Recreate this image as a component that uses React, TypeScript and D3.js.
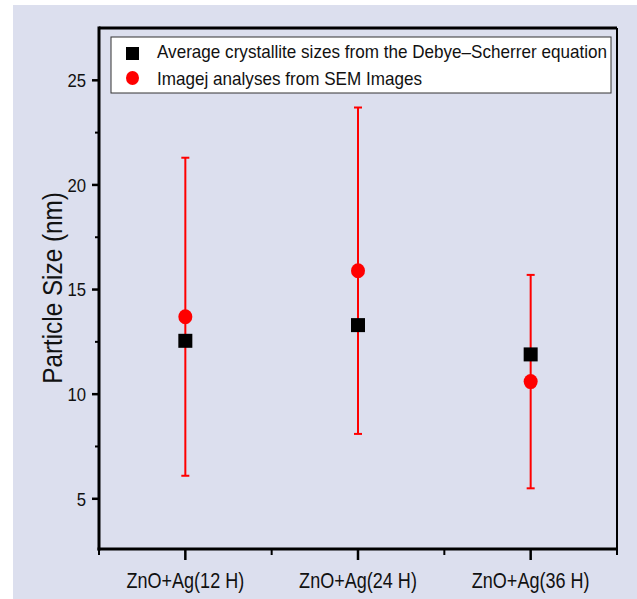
import React from 'react';
import * as d3 from 'd3';

// categories and values
const categories = ['ZnO+Ag(12 H)', 'ZnO+Ag(24 H)', 'ZnO+Ag(36 H)'];
const scherrer = [12.55, 13.3, 11.9];
const imagej = [13.7, 15.9, 10.6];
const imagejLow = [6.1, 8.1, 5.5];
const imagejHigh = [21.3, 23.7, 15.7];
const yTicks = [5, 10, 15, 20, 25];
const yMinor = [7.5, 12.5, 17.5, 22.5];
const legendLabels = [
  'Average crystallite sizes from the Debye\u2013Scherrer equation',
  'Imagej analyses from SEM Images',
];

const W = 637;
const H = 599;
const left = 99, right = 617, top = 28, bottom = 549;
const font = 'Arial, "Liberation Sans", Helvetica, sans-serif';

// condensed text: squeeze along the writing direction
const Txt: React.FC<{
  x: number; y: number; size: number; sx: number;
  anchor?: 'start' | 'middle' | 'end'; rotate?: number; dy?: string; children: React.ReactNode;
}> = ({ x, y, size, sx, anchor = 'start', rotate = 0, dy, children }) => (
  <text
    transform={`translate(${x},${y}) rotate(${rotate}) scale(${sx},1)`}
    textAnchor={anchor}
    fontSize={size}
    dy={dy}
    fill="#111"
  >
    {children}
  </text>
);

const App: React.FC = () => {
  const x = d3.scaleLinear().domain([0.5, 3.5]).range([left, right]);
  const y = d3.scaleLinear().domain([2.6, 27.5]).range([bottom, top]);
  const xMinor = d3.range(0.5, 3.6, 1);

  return (
    <svg
      width={W}
      height={H}
      style={{ position: 'absolute', left: 0, top: 0, background: '#fff' }}
      fontFamily={font}
    >
      <rect x={13} y={5} width={W - 13} height={H - 5} fill="#dcdfee" />

      {/* error bars */}
      {imagej.map((v, i) => {
        const cx = x(i + 1);
        return (
          <g key={'eb' + i} stroke="#ff0000" strokeWidth={2}>
            <line x1={cx} x2={cx} y1={y(imagejLow[i])} y2={y(imagejHigh[i])} />
            <line x1={cx - 4} x2={cx + 4} y1={y(imagejLow[i])} y2={y(imagejLow[i])} />
            <line x1={cx - 4} x2={cx + 4} y1={y(imagejHigh[i])} y2={y(imagejHigh[i])} />
          </g>
        );
      })}

      {/* squares */}
      {scherrer.map((v, i) => (
        <rect key={'sq' + i} x={x(i + 1) - 7} y={y(v) - 7} width={14} height={14} fill="#000" />
      ))}

      {/* circles */}
      {imagej.map((v, i) => (
        <ellipse key={'c' + i} cx={x(i + 1)} cy={y(v)} rx={7} ry={7.5} fill="#ff0000" />
      ))}

      {/* frame */}
      <line x1={left} x2={right} y1={top} y2={top} stroke="#000" strokeWidth={3} />
      <line x1={right} x2={right} y1={top} y2={bottom} stroke="#000" strokeWidth={2} />
      <line x1={left} x2={left} y1={top - 1.5} y2={bottom + 1.5} stroke="#000" strokeWidth={3} />
      <line x1={left - 1.5} x2={right + 1} y1={bottom} y2={bottom} stroke="#000" strokeWidth={3} />

      {/* y ticks */}
      {yTicks.map((t) => (
        <g key={'yt' + t}>
          <line x1={left - 7} x2={left} y1={y(t)} y2={y(t)} stroke="#000" strokeWidth={2.5} />
          <Txt x={left - 13} y={y(t)} size={19} sx={0.88} anchor="end" dy="0.36em">{t}</Txt>
        </g>
      ))}
      {yMinor.map((t) => (
        <line key={'ym' + t} x1={left - 4} x2={left} y1={y(t)} y2={y(t)} stroke="#000" strokeWidth={2} />
      ))}

      {/* x ticks */}
      {categories.map((c, i) => (
        <g key={'xt' + i}>
          <line x1={x(i + 1)} x2={x(i + 1)} y1={bottom} y2={bottom + 11} stroke="#000" strokeWidth={2.5} />
          <Txt x={x(i + 1)} y={588} size={22} sx={0.82} anchor="middle">{c}</Txt>
        </g>
      ))}
      {xMinor.map((t) => (
        <line key={'xm' + t} x1={x(t)} x2={x(t)} y1={bottom} y2={bottom + 6} stroke="#000" strokeWidth={2} />
      ))}

      {/* y label */}
      <Txt x={62} y={288} size={27} sx={0.9} rotate={-90} anchor="middle">Particle Size (nm)</Txt>

      {/* legend */}
      <rect x={111} y={37} width={500} height={56} fill="#fff" stroke="#333" strokeWidth={1} />
      <rect x={126} y={47} width={13} height={13} fill="#000" />
      <ellipse cx={132.5} cy={78} rx={6.5} ry={7} fill="#ff0000" />
      <Txt x={157} y={58} size={18} sx={0.95}>{legendLabels[0]}</Txt>
      <Txt x={157} y={85} size={18} sx={0.95}>{legendLabels[1]}</Txt>
    </svg>
  );
};

export default App;
